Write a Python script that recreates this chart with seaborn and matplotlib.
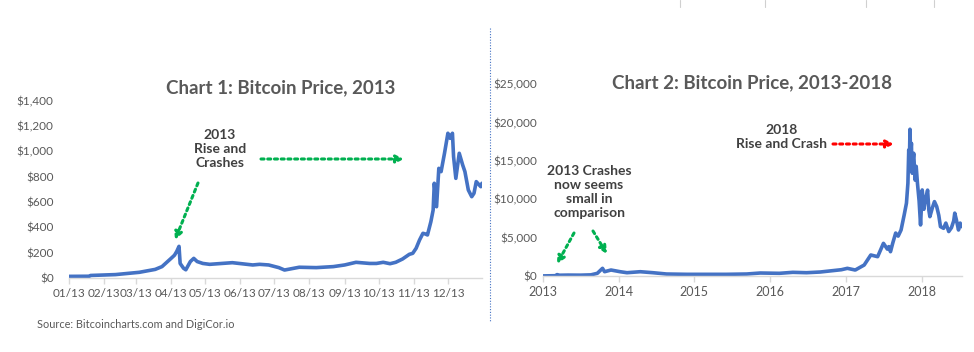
import pandas as pd
import numpy as np
import matplotlib
matplotlib.use("Agg")
import matplotlib.pyplot as plt
import matplotlib.dates as mdates
from matplotlib.ticker import FuncFormatter
import seaborn as sns

# Chart 1: Bitcoin price during 2013
dates_2013 = ["2013-01-01", "2013-01-19", "2013-01-20", "2013-02-11", "2013-03-04",
              "2013-03-18", "2013-03-24", "2013-04-01", "2013-04-04", "2013-04-06",
              "2013-04-08", "2013-04-09", "2013-04-12", "2013-04-14", "2013-04-18",
              "2013-04-21", "2013-04-24", "2013-04-29", "2013-05-05", "2013-05-25",
              "2013-06-12", "2013-06-18", "2013-06-26", "2013-07-05", "2013-07-10",
              "2013-07-23", "2013-08-07", "2013-08-22", "2013-09-01", "2013-09-11",
              "2013-09-23", "2013-09-29", "2013-10-05", "2013-10-11", "2013-10-16",
              "2013-10-22", "2013-10-28", "2013-10-31", "2013-11-03", "2013-11-06",
              "2013-11-09", "2013-11-11", "2013-11-13", "2013-11-16", "2013-11-18",
              "2013-11-19", "2013-11-21", "2013-11-23", "2013-11-25", "2013-11-28",
              "2013-12-01", "2013-12-03", "2013-12-05", "2013-12-06", "2013-12-08",
              "2013-12-11", "2013-12-14", "2013-12-16", "2013-12-19", "2013-12-22",
              "2013-12-24", "2013-12-26", "2013-12-30"]
price_2013 = [13, 14, 20, 27, 45,
              68, 90, 155, 180, 210,
              250, 115, 77, 65, 130,
              155, 130, 115, 108, 121,
              103, 108, 103, 82, 63,
              85, 82, 90, 103, 124,
              115, 115, 124, 113, 124,
              150, 187, 195, 235, 300,
              353, 348, 340, 445, 537,
              748, 563, 866, 840, 985,
              1143, 1103, 1143, 958, 787,
              985, 893, 840, 695, 642,
              669, 761, 721]
date_end = ["2013-12-31"]
price_end = [748]

# Chart 2: Bitcoin price 2013-2018
dates_long = ["2013-01-01", "2013-03-01", "2013-03-10", "2013-03-22", "2013-05-01",
              "2013-07-01", "2013-08-20", "2013-09-20", "2013-10-15", "2013-10-25",
              "2013-11-25", "2014-01-08", "2014-02-10", "2014-04-15", "2014-06-15",
              "2014-08-20", "2014-11-25", "2015-02-01", "2015-06-05", "2015-09-10",
              "2015-11-15", "2016-02-15", "2016-04-20", "2016-06-25", "2016-08-30",
              "2016-10-30", "2016-12-10", "2017-01-08", "2017-02-15", "2017-03-30",
              "2017-05-01", "2017-06-03", "2017-07-01", "2017-07-20", "2017-07-27",
              "2017-08-04", "2017-08-15", "2017-08-29", "2017-09-10", "2017-09-24",
              "2017-10-09", "2017-10-20", "2017-10-27", "2017-10-31", "2017-11-03",
              "2017-11-06", "2017-11-09", "2017-11-13", "2017-11-15", "2017-11-17",
              "2017-11-20", "2017-11-24", "2017-11-28", "2017-12-01", "2017-12-06",
              "2017-12-12", "2017-12-20", "2017-12-27", "2018-01-04", "2018-01-12",
              "2018-01-19", "2018-01-30", "2018-02-05", "2018-02-10", "2018-02-22",
              "2018-03-04", "2018-03-15", "2018-03-25", "2018-04-02", "2018-04-17",
              "2018-04-28", "2018-05-12", "2018-05-25", "2018-06-05", "2018-06-10",
              "2018-06-18", "2018-06-28", "2018-07-06", "2018-07-13"]
price_long = [13, 40, 180, 100, 120,
              110, 150, 350, 1000, 560,
              780, 560, 430, 560, 430,
              260, 220, 220, 220, 260,
              390, 350, 480, 430, 520,
              700, 820, 1000, 780, 1430,
              2740, 2520, 4260, 3500, 3830,
              3170, 4300, 5600, 5200, 6000,
              7960, 9500, 12100, 16440, 14500,
              19140, 15800, 17300, 14200, 13400,
              15000, 16000, 13800, 12500, 14300,
              12100, 9800, 6660, 11220, 8700,
              9900, 11200, 8600, 7740, 8900,
              9700, 9050, 7900, 6440, 6220,
              6900, 5800, 6300, 7200, 8200,
              7300, 6000, 6900, 6440]

blue = "#4472C4"
grey = "#595959"
dark = "#404040"
green = "#00B050"

sns.set_style("white")
plt.rcParams['font.family'] = ['Lato', 'DejaVu Sans']

fig = plt.figure(figsize=(9.74, 3.52), dpi=100)
ax1 = fig.add_axes([0.0708, 0.2102, 0.424, 0.5037])
ax2 = fig.add_axes([0.5575, 0.2159, 0.4302, 0.5446])

df1 = pd.DataFrame({"date": pd.to_datetime(dates_2013 + date_end), "price": price_2013 + price_end})
df2 = pd.DataFrame({"date": pd.to_datetime(dates_long), "price": price_long})

sns.lineplot(data=df1, x="date", y="price", ax=ax1, color=blue, linewidth=2.6)
sns.lineplot(data=df2, x="date", y="price", ax=ax2, color=blue, linewidth=2.6)

money = FuncFormatter(lambda v, p: "${:,.0f}".format(v))

# --- chart 1 axes
ax1.set_xlim(pd.Timestamp("2013-01-01"), pd.Timestamp("2013-12-31"))
ax1.set_ylim(0, 1400)
ax1.set_yticks(range(0, 1401, 200))
ax1.yaxis.set_major_formatter(money)
ax1.xaxis.set_major_locator(mdates.MonthLocator())
ax1.xaxis.set_major_formatter(mdates.DateFormatter("%m/%y"))

# --- chart 2 axes
ax2.set_xlim(pd.Timestamp("2013-01-01"), pd.Timestamp("2018-07-15"))
ax2.set_ylim(0, 25000)
ax2.set_yticks(range(0, 25001, 5000))
ax2.yaxis.set_major_formatter(money)
ax2.xaxis.set_major_locator(mdates.YearLocator())
ax2.xaxis.set_major_formatter(mdates.DateFormatter("%Y"))

for ax in (ax1, ax2):
    ax.set_xlabel("")
    ax.set_ylabel("")
    for s in ("top", "right", "left"):
        ax.spines[s].set_visible(False)
    ax.spines["bottom"].set_color("#D9D9D9")
    ax.spines["bottom"].set_linewidth(1)
    ax.tick_params(axis="x", colors="#D9D9D9", length=4, width=1, direction="out",
                   labelcolor=grey, labelsize=8.5, pad=3, bottom=True)
    ax.tick_params(axis="y", length=0, labelcolor=grey, labelsize=8.5)
    ax.grid(False)
ax1.tick_params(axis="y", pad=11)
ax2.tick_params(axis="y", pad=4)
ax2.tick_params(axis="x", labelsize=9)

# titles
fig.text(0.2885, 0.75, "Chart 1: Bitcoin Price, 2013", ha="center", va="center",
         fontsize=13.5, fontweight="bold", color=grey)
fig.text(0.772, 0.764, "Chart 2: Bitcoin Price, 2013-2018", ha="center", va="center",
         fontsize=13.5, fontweight="bold", color=grey)

# annotations chart 1
fig.text(0.2259, 0.578, "2013\nRise and\nCrashes", ha="center", va="center",
         fontsize=10, fontweight="bold", color=dark, linespacing=1.2)
arrow_g = dict(arrowstyle="-|>", color=green, lw=2.2, linestyle=(0, (1, 1.2)),
               mutation_scale=11, shrinkA=0, shrinkB=0)
fig.add_artist(matplotlib.patches.FancyArrowPatch(
    (198 / 974, 1 - 183 / 352), (175 / 974, 1 - 240 / 352),
    transform=fig.transFigure, **arrow_g))
fig.add_artist(matplotlib.patches.FancyArrowPatch(
    (261 / 974, 1 - 159 / 352), (404 / 974, 1 - 159 / 352),
    transform=fig.transFigure, **arrow_g))

# annotations chart 2
fig.text(589 / 974, 1 - 192 / 352, "2013 Crashes\nnow seems\nsmall in\ncomparison",
         ha="center", va="center", fontsize=10, fontweight="bold", color=dark,
         linespacing=1.2)
fig.add_artist(matplotlib.patches.FancyArrowPatch(
    (574 / 974, 1 - 233 / 352), (557 / 974, 1 - 264 / 352),
    transform=fig.transFigure, **arrow_g))
fig.add_artist(matplotlib.patches.FancyArrowPatch(
    (593 / 974, 1 - 231 / 352), (607 / 974, 1 - 254 / 352),
    transform=fig.transFigure, **arrow_g))
fig.text(782 / 974, 1 - 137 / 352, "2018\nRise and Crash", ha="center", va="center",
         fontsize=10, fontweight="bold", color=dark, linespacing=1.2)
arrow_r = dict(arrow_g, color="#FF0000")
fig.add_artist(matplotlib.patches.FancyArrowPatch(
    (833 / 974, 1 - 144 / 352), (894 / 974, 1 - 144 / 352),
    transform=fig.transFigure, **arrow_r))

# source
fig.text(37 / 974, 1 - 325 / 352, "Source: Bitcoincharts.com and DigiCor.io",
         ha="left", va="center", fontsize=7.8, color=grey)

# separator and small frame remnants
fig.add_artist(matplotlib.lines.Line2D([490 / 974, 490 / 974], [1 - 28 / 352, 1 - 322 / 352],
                                       transform=fig.transFigure, color=blue, lw=0.8,
                                       linestyle=(0, (1, 1.5))))
for xp in (680, 765, 866, 934):
    fig.add_artist(matplotlib.lines.Line2D([xp / 974, xp / 974], [1.0, 1 - 7 / 352],
                                           transform=fig.transFigure, color="#D0D0D0", lw=0.8))

fig.savefig("out.png", dpi=100, facecolor="white")
